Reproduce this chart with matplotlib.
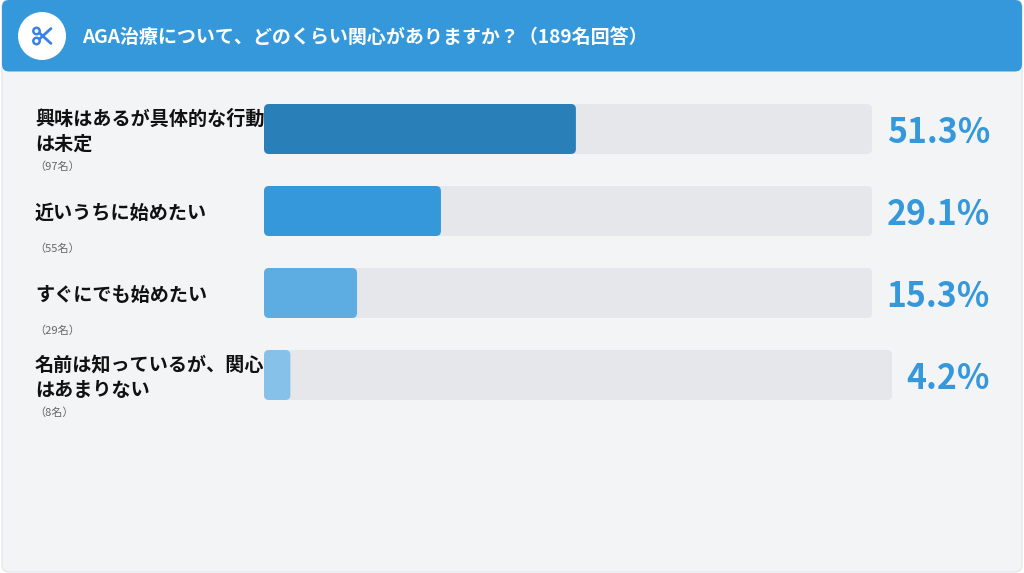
import matplotlib
matplotlib.use("Agg")
import matplotlib.pyplot as plt
from matplotlib.patches import FancyBboxPatch, Circle

plt.rcParams['font.family'] = ['Noto Sans CJK JP', 'DejaVu Sans']

title = "AGA治療について、どのくらい関心がありますか？（189名回答）"
labels = ["興味はあるが具体的な行動\nは未定", "近いうちに始めたい", "すぐにでも始めたい", "名前は知っているが、関心\nはあまりない"]
counts = ["（97名）", "（55名）", "（29名）", "（8名）"]
values = [51.3, 29.1, 15.3, 4.2]
fill_colors = ["#2980b9", "#3498db", "#5dade2", "#85c1e9"]
track_widths = [608, 608, 608, 628]

W, H = 1024, 573
fig = plt.figure(figsize=(W / 100, H / 100), dpi=100, facecolor="white")
ax = fig.add_axes([0, 0, 1, 1])
ax.set_xlim(0, W)
ax.set_ylim(H, 0)
ax.axis("off")


def round_box(x, y, w, h, r, color, **kw):
    r = min(r, w / 2, h / 2)
    p = FancyBboxPatch((x + r, y + r), w - 2 * r, h - 2 * r,
                       boxstyle="round,pad=%f,rounding_size=%f" % (r, r),
                       facecolor=color, edgecolor=kw.pop("edgecolor", "none"),
                       linewidth=kw.pop("linewidth", 0), **kw)
    ax.add_patch(p)


# card and header
round_box(2, 0, 1020, 572, 7, "#f3f4f6", edgecolor="#e6e8eb", linewidth=1)
round_box(2, 0, 1020, 71.5, 7, "#3498db")
ax.add_patch(Circle((42, 36), 24, facecolor="white", edgecolor="none"))

# scissors icon
icon = "#3b82e6"
ax.plot([39.5, 51], [33, 43.5], color=icon, lw=2, solid_capstyle="round")
ax.plot([39.5, 39.5 + 11.5], [39, 28.5], color=icon, lw=2, solid_capstyle="round")
ax.add_patch(Circle((36.5, 31), 3.2, facecolor="none", edgecolor=icon, linewidth=1.8))
ax.add_patch(Circle((36.5, 41), 3.2, facecolor="none", edgecolor=icon, linewidth=1.8))

ax.text(82, 37.5, title, color="white", fontsize=13.7, fontweight="bold", ha="left", va="center")

# rows
bar_x = 264
bar_h = 50
right = 990
for i in range(len(values)):
    top = 104 + i * 82
    round_box(bar_x, top, track_widths[i], bar_h, 5, "#e5e7eb")
    round_box(bar_x, top, track_widths[i] * values[i] / 100, bar_h, 5, fill_colors[i])
    ax.text(right, top + 28.5, "%.1f%%" % values[i], color="#3498db", fontsize=24.3,
            fontweight="bold", ha="right", va="center")
    ax.text(35, top + 27.5, labels[i], color="#111111", fontsize=13.75, fontweight="bold",
            ha="left", va="center", linespacing=1.42)
    ax.text(34, top + 63, counts[i], color="#666666", fontsize=8, ha="left", va="center")

fig.savefig("out.png", dpi=100, facecolor="white")
